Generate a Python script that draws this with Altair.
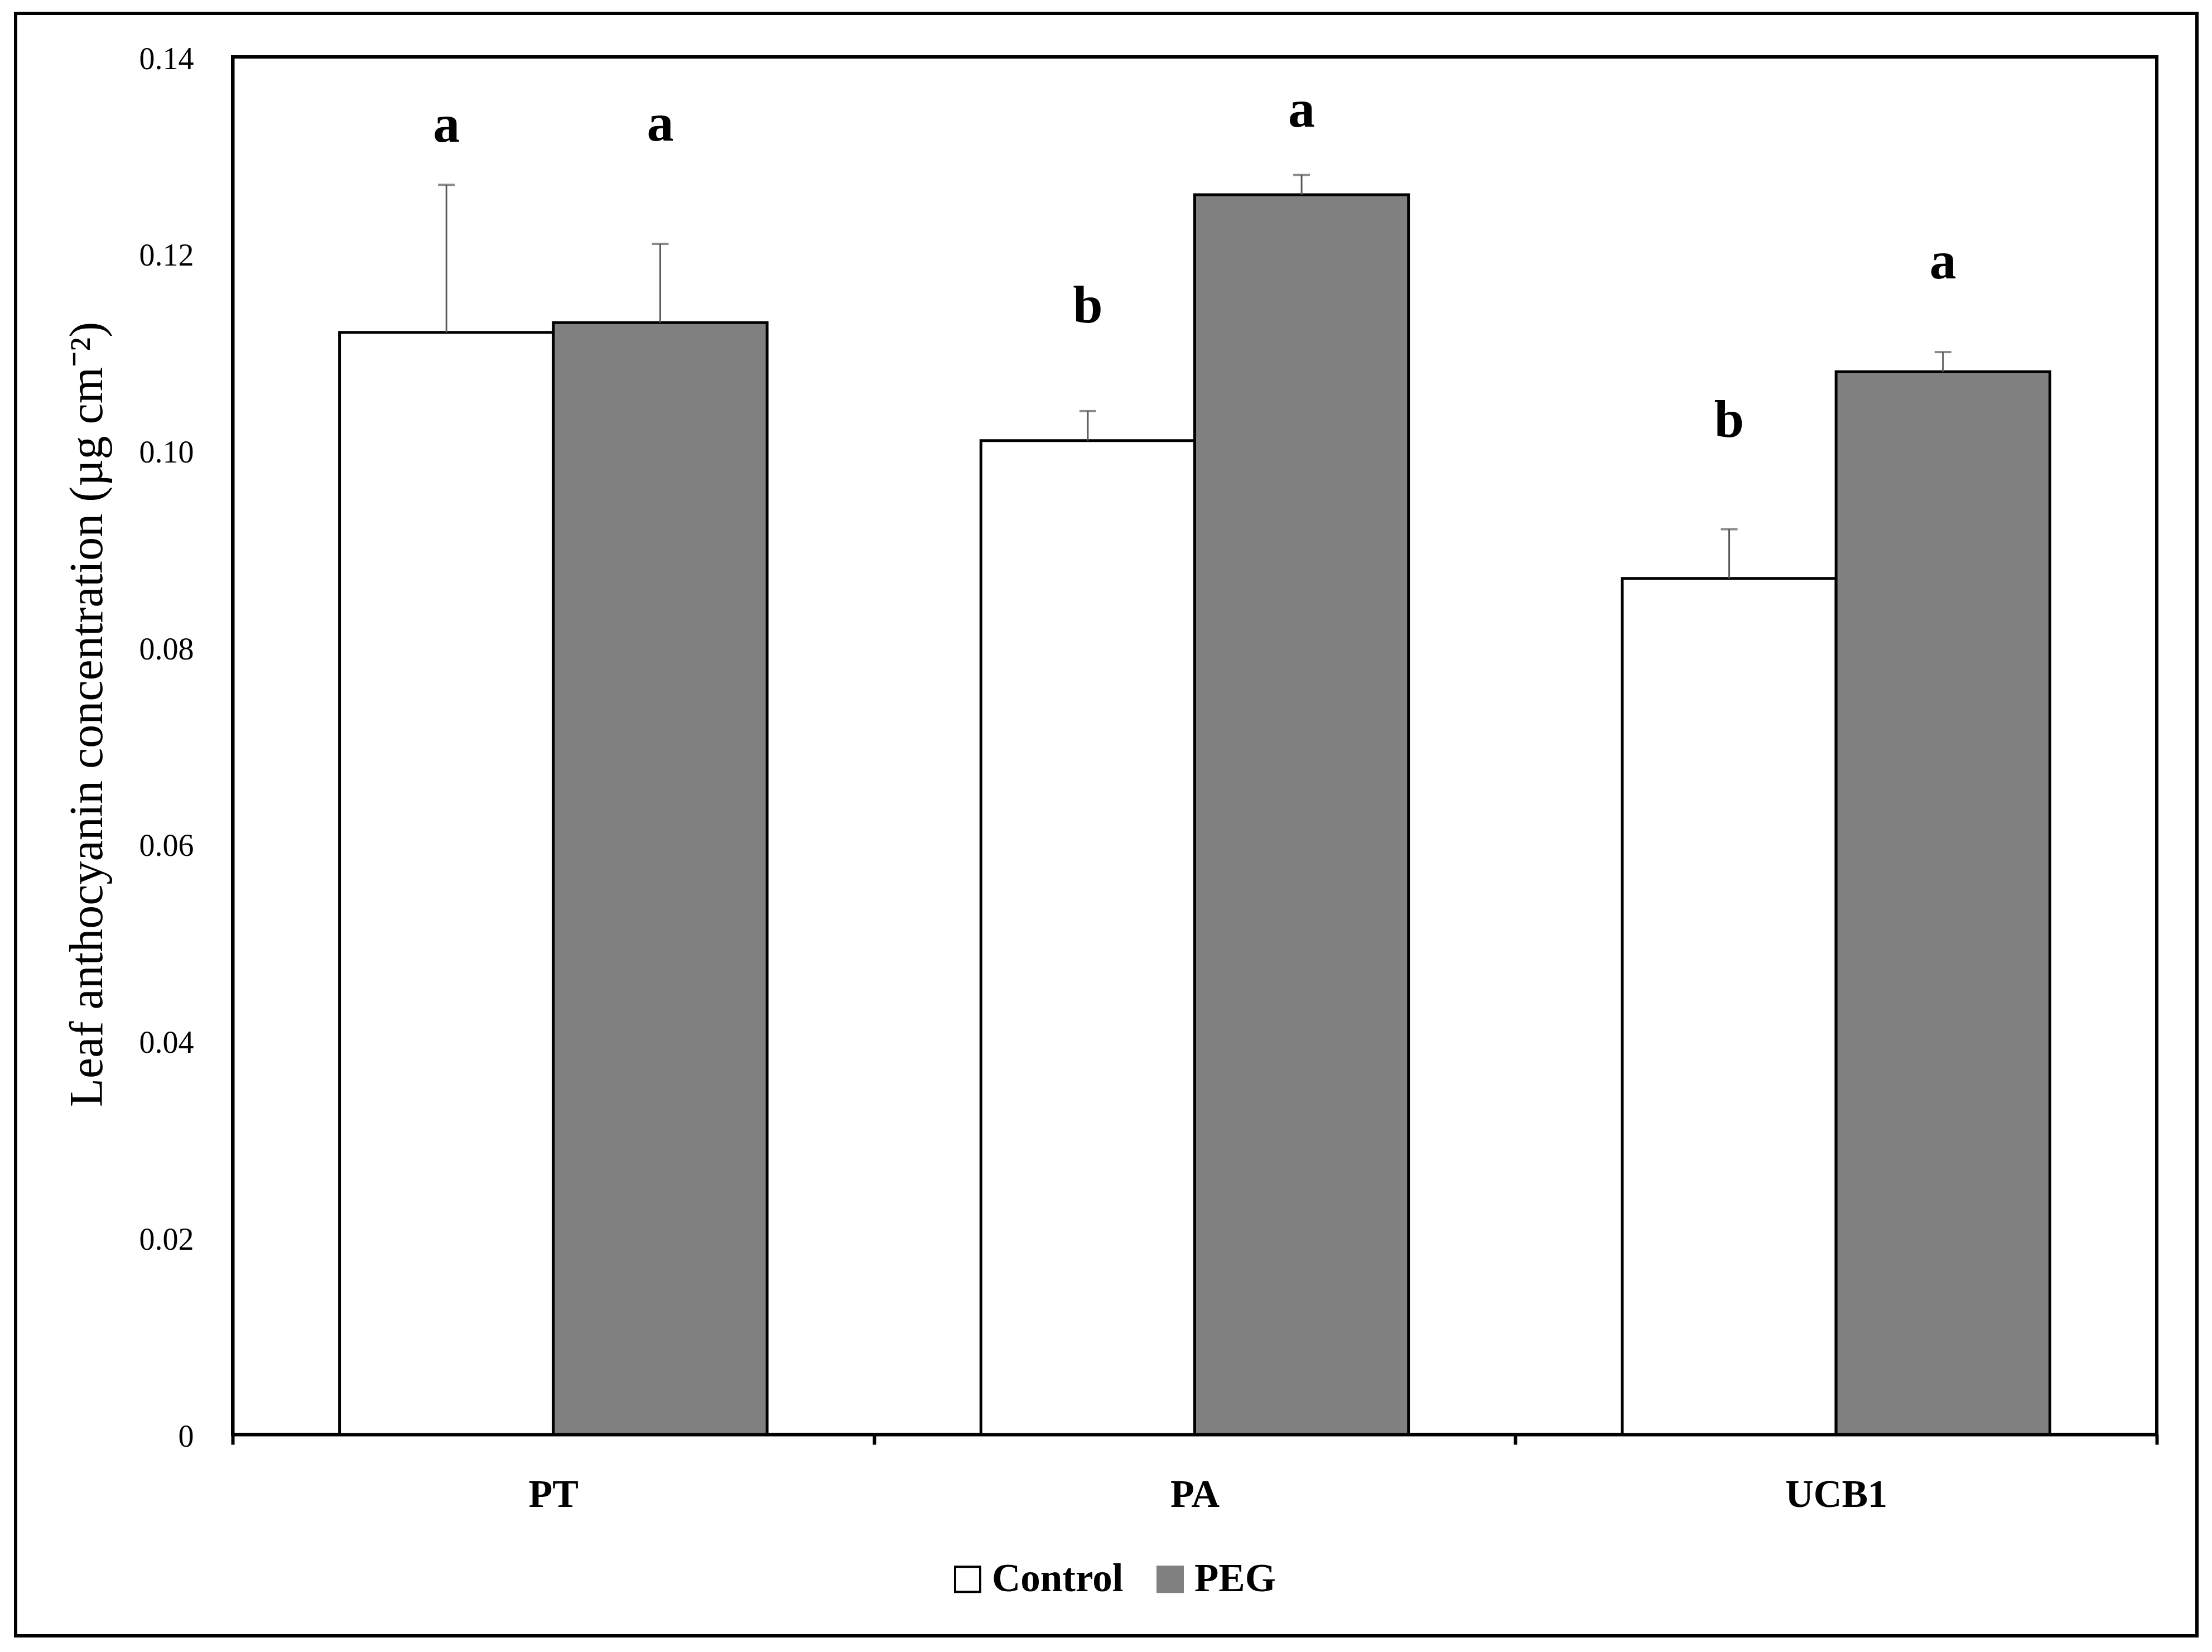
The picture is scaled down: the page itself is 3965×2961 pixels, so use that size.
import altair as alt
import pandas as pd

# ---- data ----
cultivars = ["PT", "PA", "UCB1"]
treatments = ["Control", "PEG"]
control_means = [0.112, 0.101, 0.087]
peg_means = [0.113, 0.126, 0.108]
control_err = [0.015, 0.003, 0.005]
peg_err = [0.008, 0.002, 0.002]
control_letters = ["a", "b", "b"]
peg_letters = ["a", "a", "a"]
control_letter_y = [0.1314, 0.1130, 0.1014]
peg_letter_y = [0.1315, 0.1329, 0.1175]
y_ticks = [0, 0.02, 0.04, 0.06, 0.08, 0.10, 0.12, 0.14]

rows = []
for i, c in enumerate(cultivars):
    rows.append(dict(cultivar=c, treatment="Control", mean=control_means[i],
                     upper=control_means[i] + control_err[i],
                     letter=control_letters[i], ly=control_letter_y[i]))
    rows.append(dict(cultivar=c, treatment="PEG", mean=peg_means[i],
                     upper=peg_means[i] + peg_err[i],
                     letter=peg_letters[i], ly=peg_letter_y[i]))
df = pd.DataFrame(rows)

FONT = "Liberation Serif"
W, H = 3449, 2469

x_axis = alt.Axis(title=None, labelAngle=0, tickBand="extent", ticks=True,
                  tickSize=18, tickWidth=6, tickColor="black",
                  domainColor="black", domainWidth=6,
                  labelFont=FONT, labelFontSize=70, labelFontWeight="bold",
                  labelColor="black", labelPadding=56, labelLimit=1000)
x_enc = alt.X("cultivar:N", sort=cultivars,
              scale=alt.Scale(paddingInner=0, paddingOuter=0), axis=x_axis)
xo_enc = alt.XOffset("treatment:N", sort=treatments,
                     scale=alt.Scale(paddingInner=0, paddingOuter=0.5))

y_scale = alt.Scale(domain=[0, 0.14], nice=False, zero=True)
y_axis = alt.Axis(title="Leaf anthocyanin concentration (µg cm⁻²)",
                  values=y_ticks,
                  labelExpr="datum.value == 0 ? '0' : format(datum.value, '.2f')",
                  ticks=False, tickSize=0, grid=False,
                  domainColor="black", domainWidth=6,
                  labelFont=FONT, labelFontSize=56, labelColor="black",
                  labelPadding=70, labelOffset=4,
                  titleFont=FONT, titleFontSize=84, titleFontWeight="normal",
                  titleColor="black", titleAngle=270, titleX=-235, titleY=1178,
                  titleAlign="center", titleBaseline="alphabetic", titleLimit=3000)

fill_scale = alt.Scale(domain=treatments, range=["#ffffff", "#808080"])
stroke_scale = alt.Scale(domain=treatments, range=["#000000", "#808080"])
legend = alt.Legend(title=None, orient="none", legendX=1282, legendY=2693,
                    direction="horizontal", symbolType="square", symbolSize=2025,
                    symbolStrokeWidth=4, labelFont=FONT, labelFontSize=71,
                    labelFontWeight="bold", labelColor="black", labelOffset=8,
                    columnPadding=48, padding=0, labelLimit=1000)

base = alt.Chart(df)

bars = base.mark_bar(stroke="black", strokeWidth=5).encode(
    x=x_enc, xOffset=xo_enc,
    y=alt.Y("mean:Q", scale=y_scale, axis=y_axis),
    fill=alt.Fill("treatment:N", scale=fill_scale, legend=legend),
)

legend_layer = base.transform_filter("false").mark_square().encode(
    fill=alt.Fill("treatment:N", scale=fill_scale, legend=legend),
    stroke=alt.Stroke("treatment:N", scale=stroke_scale, legend=legend),
)

err_rule = base.mark_rule(color="#595959", strokeWidth=3).encode(
    x=x_enc, xOffset=xo_enc,
    y=alt.Y("mean:Q", scale=y_scale, axis=y_axis),
    y2="upper:Q",
)

err_cap = base.mark_tick(color="#595959", thickness=4, size=30, orient="horizontal").encode(
    x=x_enc, xOffset=xo_enc,
    y=alt.Y("upper:Q", scale=y_scale, axis=y_axis),
)

letters = base.mark_text(font=FONT, fontSize=96, fontWeight="bold",
                         baseline="alphabetic", color="black").encode(
    x=x_enc, xOffset=xo_enc,
    y=alt.Y("ly:Q", scale=y_scale, axis=y_axis),
    text="letter:N",
)

frame = alt.Chart(alt.Data(values=[{"frame": 1}])).mark_rect(
    fillOpacity=0, stroke="black", strokeWidth=6).encode(
    x=alt.value(-389), x2=alt.value(3521), y=alt.value(-78), y2=alt.value(2830))

chart = alt.layer(bars, legend_layer, err_rule, err_cap, letters, frame).properties(
    width=W, height=H,
    autosize=alt.AutoSizeParams(type="none"),
    padding={"left": 409, "top": 94, "right": 91, "bottom": 382},
    background="white",
).configure_view(stroke="black", strokeWidth=6)

chart.save("out.html", embed_options={"renderer": "svg", "actions": False})
